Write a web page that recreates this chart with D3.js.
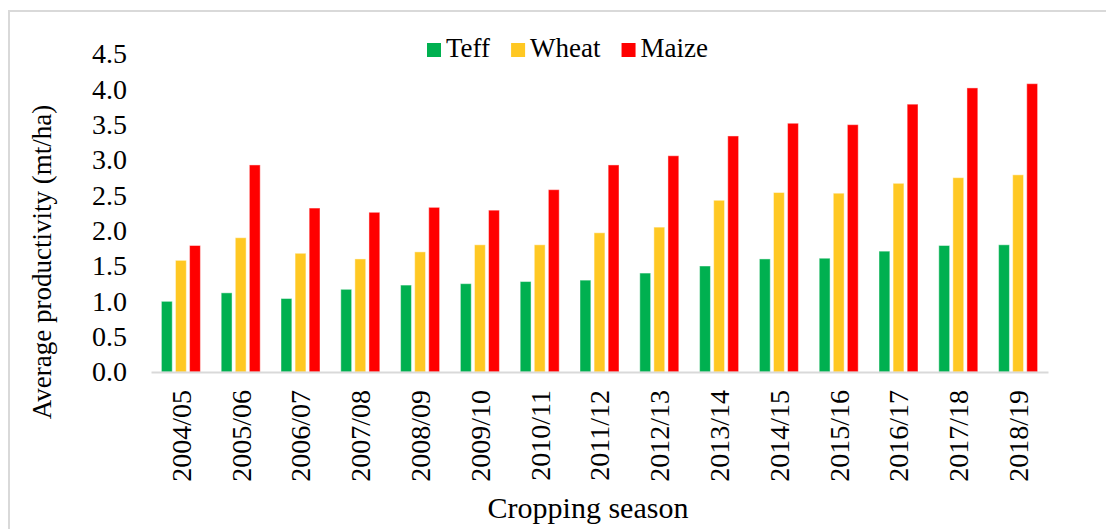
<!DOCTYPE html>
<html>
<head>
<meta charset="utf-8">
<script src="https://cdn.jsdelivr.net/npm/d3@7"></script>
<style>
  body { margin: 0; background: #fff; }
  svg { display: block; font-family: "Liberation Serif", "Times New Roman", serif; }
</style>
</head>
<body>
<svg id="chart" width="1106" height="529"></svg>
<script>
// data
var seasons = ["2004/05","2005/06","2006/07","2007/08","2008/09","2009/10","2010/11","2011/12","2012/13","2013/14","2014/15","2015/16","2016/17","2017/18","2018/19"];
var teff  = [1.00,1.12,1.04,1.17,1.23,1.25,1.28,1.30,1.40,1.50,1.60,1.61,1.71,1.79,1.80];
var wheat = [1.58,1.90,1.68,1.60,1.70,1.80,1.80,1.97,2.05,2.43,2.54,2.53,2.67,2.75,2.79];
var maize = [1.79,2.93,2.32,2.26,2.33,2.29,2.58,2.93,3.06,3.34,3.52,3.50,3.79,4.02,4.08];
var seriesNames = ["Teff","Wheat","Maize"];
var seriesColors = ["#00B050","#FFC823","#FF0000"];
var yTicks = [0,0.5,1,1.5,2,2.5,3,3.5,4,4.5];

var svg = d3.select("#chart");
var margin = {left: 151, right: 58, top: 54, bottom: 157};
var W = 1106, H = 529;
var serif = "Liberation Serif";

// outer frame (runs off the picture on the right and bottom)
svg.append("rect")
  .attr("x", 9).attr("y", 11)
  .attr("width", 1200).attr("height", 600)
  .attr("fill", "none")
  .attr("stroke", "#d9d9d9")
  .attr("stroke-width", 2);

var x0 = d3.scaleBand()
  .domain(seasons)
  .range([margin.left, W - margin.right])
  .padding(0);

var x1 = d3.scaleBand()
  .domain(seriesNames)
  .range([0, 39])
  .paddingInner(0.23)
  .paddingOuter(0);

var y = d3.scaleLinear()
  .domain([0, 4.5])
  .range([H - margin.bottom, margin.top]);

var rows = seasons.map(function(s, i) {
  return {season: s, vals: [teff[i], wheat[i], maize[i]]};
});

var groupOffset = (x0.bandwidth() - 39) / 2;

var groups = svg.append("g").attr("id", "bars")
  .selectAll("g")
  .data(rows)
  .join("g")
  .attr("transform", function(d) { return "translate(" + (x0(d.season) + groupOffset) + ",0)"; });

groups.selectAll("rect")
  .data(function(d) { return d.vals.map(function(v, k) { return {name: seriesNames[k], v: v, k: k}; }); })
  .join("rect")
  .attr("x", function(d) { return x1(d.name); })
  .attr("y", function(d) { return y(d.v); })
  .attr("width", x1.bandwidth())
  .attr("height", function(d) { return y(0) - y(d.v); })
  .attr("fill", function(d) { return seriesColors[d.k]; })
  .attr("stroke", "#ffffff")
  .attr("stroke-opacity", 0.45)
  .attr("stroke-width", 1);

// y axis (labels only)
var yAxis = svg.append("g")
  .attr("transform", "translate(" + margin.left + ",0)")
  .call(d3.axisLeft(y).tickValues(yTicks).tickFormat(d3.format(".1f")).tickSize(0).tickPadding(24));
yAxis.attr("font-family", serif).attr("font-size", 28);
yAxis.select(".domain").remove();
yAxis.selectAll("text").attr("fill", "#000");

// x axis
var xAxis = svg.append("g")
  .attr("transform", "translate(0," + y(0) + ")")
  .call(d3.axisBottom(x0).tickSize(0).tickPadding(0));
xAxis.attr("font-family", serif).attr("font-size", 28);
xAxis.select(".domain")
  .attr("stroke", "#d9d9d9")
  .attr("stroke-width", 2);
xAxis.selectAll("text")
  .attr("fill", "#000")
  .attr("transform", "rotate(-90)")
  .attr("x", -18)
  .attr("y", 0)
  .attr("dy", "0.35em")
  .style("text-anchor", "end");

// axis titles
svg.append("text")
  .attr("transform", "translate(51,262) rotate(-90)")
  .style("text-anchor", "middle")
  .style("font-family", serif)
  .style("font-size", "27px")
  .text("Average productivity (mt/ha)");

svg.append("text")
  .attr("x", 588)
  .attr("y", 518)
  .style("text-anchor", "middle")
  .style("font-family", serif)
  .style("font-size", "30px")
  .text("Cropping season");

// legend
var legend = svg.append("g").attr("id", "legend");
var lx = 427;
seriesNames.forEach(function(name, i) {
  legend.append("rect")
    .attr("x", lx).attr("y", 43)
    .attr("width", 14).attr("height", 14)
    .attr("fill", seriesColors[i]);
  var t = legend.append("text")
    .attr("x", lx + 19)
    .attr("y", 57)
    .style("font-family", serif)
    .style("font-size", "27px")
    .text(name);
  lx = lx + 19 + t.node().getComputedTextLength() + 21;
});
</script>
</body>
</html>
